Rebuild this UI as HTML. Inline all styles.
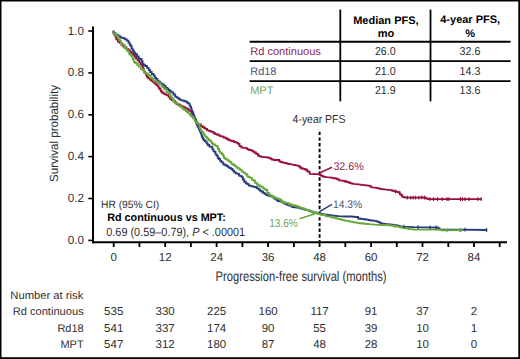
<!DOCTYPE html>
<html><head><meta charset="utf-8"><style>
html,body{margin:0;padding:0;background:#fff;}
body{width:520px;height:359px;overflow:hidden;position:relative;}
svg{position:absolute;left:0;top:0;}
.t{font-family:"Liberation Sans",sans-serif;font-size:11px;fill:#303030;text-rendering:geometricPrecision;}
.b{font-weight:bold;fill:#000;}
</style></head><body>
<svg width="520" height="359" viewBox="0 0 520 359">
<rect x="0" y="0" width="520" height="359" fill="#fff"/>
<line x1="93" y1="26.5" x2="93" y2="243.3" stroke="#000" stroke-width="2"/>
<line x1="92" y1="242.3" x2="507" y2="242.3" stroke="#000" stroke-width="2"/>
<line x1="88.3" y1="240.4" x2="93" y2="240.4" stroke="#000" stroke-width="1.6"/>
<text x="84.00" y="243.90" text-anchor="end" class="t" style="font-size:12px" textLength="16.18" lengthAdjust="spacingAndGlyphs">0.0</text>
<line x1="88.3" y1="198.5" x2="93" y2="198.5" stroke="#000" stroke-width="1.6"/>
<text x="84.00" y="202.02" text-anchor="end" class="t" style="font-size:12px" textLength="16.18" lengthAdjust="spacingAndGlyphs">0.2</text>
<line x1="88.3" y1="156.6" x2="93" y2="156.6" stroke="#000" stroke-width="1.6"/>
<text x="84.00" y="160.14" text-anchor="end" class="t" style="font-size:12px" textLength="16.18" lengthAdjust="spacingAndGlyphs">0.4</text>
<line x1="88.3" y1="114.8" x2="93" y2="114.8" stroke="#000" stroke-width="1.6"/>
<text x="84.00" y="118.26" text-anchor="end" class="t" style="font-size:12px" textLength="16.18" lengthAdjust="spacingAndGlyphs">0.6</text>
<line x1="88.3" y1="72.9" x2="93" y2="72.9" stroke="#000" stroke-width="1.6"/>
<text x="84.00" y="76.38" text-anchor="end" class="t" style="font-size:12px" textLength="16.18" lengthAdjust="spacingAndGlyphs">0.8</text>
<line x1="88.3" y1="31.0" x2="93" y2="31.0" stroke="#000" stroke-width="1.6"/>
<text x="84.00" y="34.50" text-anchor="end" class="t" style="font-size:12px" textLength="16.18" lengthAdjust="spacingAndGlyphs">1.0</text>
<line x1="113.7" y1="242" x2="113.7" y2="247" stroke="#000" stroke-width="1.8"/>
<line x1="139.4" y1="242" x2="139.4" y2="247" stroke="#000" stroke-width="1.8"/>
<line x1="165.2" y1="242" x2="165.2" y2="247" stroke="#000" stroke-width="1.8"/>
<line x1="190.9" y1="242" x2="190.9" y2="247" stroke="#000" stroke-width="1.8"/>
<line x1="216.6" y1="242" x2="216.6" y2="247" stroke="#000" stroke-width="1.8"/>
<line x1="242.4" y1="242" x2="242.4" y2="247" stroke="#000" stroke-width="1.8"/>
<line x1="268.1" y1="242" x2="268.1" y2="247" stroke="#000" stroke-width="1.8"/>
<line x1="293.9" y1="242" x2="293.9" y2="247" stroke="#000" stroke-width="1.8"/>
<line x1="319.6" y1="242" x2="319.6" y2="247" stroke="#000" stroke-width="1.8"/>
<line x1="345.3" y1="242" x2="345.3" y2="247" stroke="#000" stroke-width="1.8"/>
<line x1="371.1" y1="242" x2="371.1" y2="247" stroke="#000" stroke-width="1.8"/>
<line x1="396.8" y1="242" x2="396.8" y2="247" stroke="#000" stroke-width="1.8"/>
<line x1="422.5" y1="242" x2="422.5" y2="247" stroke="#000" stroke-width="1.8"/>
<line x1="448.3" y1="242" x2="448.3" y2="247" stroke="#000" stroke-width="1.8"/>
<line x1="474.0" y1="242" x2="474.0" y2="247" stroke="#000" stroke-width="1.8"/>
<line x1="499.7" y1="242" x2="499.7" y2="247" stroke="#000" stroke-width="1.8"/>
<text x="113.70" y="261.40" text-anchor="middle" class="t" style="font-size:11.5px">0</text>
<text x="165.17" y="261.40" text-anchor="middle" class="t" style="font-size:11.5px">12</text>
<text x="216.64" y="261.40" text-anchor="middle" class="t" style="font-size:11.5px">24</text>
<text x="268.11" y="261.40" text-anchor="middle" class="t" style="font-size:11.5px">36</text>
<text x="319.59" y="261.40" text-anchor="middle" class="t" style="font-size:11.5px">48</text>
<text x="371.06" y="261.40" text-anchor="middle" class="t" style="font-size:11.5px">60</text>
<text x="422.53" y="261.40" text-anchor="middle" class="t" style="font-size:11.5px">72</text>
<text x="474.00" y="261.40" text-anchor="middle" class="t" style="font-size:11.5px">84</text>
<line x1="319.6" y1="131.7" x2="319.6" y2="241.5" stroke="#000" stroke-width="1.9" stroke-dasharray="3.4,2.3"/>
<polyline points="112.80,31.30 113.19,31.30 113.19,32.04 113.86,32.04 113.86,33.99 114.72,33.99 114.72,35.50 115.30,35.50 115.52,35.50 115.52,36.56 116.22,36.56 116.22,39.30 116.70,39.30 117.85,39.30 117.85,41.50 119.00,41.50 119.69,41.50 119.69,42.94 121.44,42.94 121.44,44.80 122.50,44.80 123.14,44.80 123.14,46.32 124.64,46.32 124.64,47.50 125.50,47.50 126.47,47.50 126.47,48.79 127.72,48.79 127.72,49.40 128.00,49.40 128.69,49.40 128.69,50.28 130.04,50.28 130.04,52.00 130.70,52.00 131.70,52.00 131.70,53.60 132.70,53.60 133.46,53.60 133.46,55.05 134.77,55.05 134.77,56.49 136.01,56.49 136.01,58.70 136.70,58.70 137.64,58.70 137.64,60.29 139.29,60.29 139.29,62.70 140.00,62.70 140.75,62.70 140.75,64.43 142.10,64.43 142.10,66.00 142.70,66.00 142.86,66.00 142.86,67.90 143.28,67.90 143.28,68.92 143.78,68.92 143.78,71.33 144.36,71.33 144.36,72.00 144.70,72.00 145.11,72.00 145.11,73.03 146.11,73.03 146.11,75.00 146.70,75.00 147.00,75.00 147.00,76.83 148.10,76.83 148.10,78.30 148.90,78.30 150.01,78.30 150.01,79.84 151.71,79.84 151.71,81.20 152.30,81.20 153.18,81.20 153.18,82.34 154.83,82.34 154.83,83.60 155.60,83.60 156.21,83.60 156.21,84.92 157.56,84.92 157.56,86.16 158.60,86.16 158.60,87.90 158.90,87.90 159.65,87.90 159.65,89.24 160.80,89.24 160.80,91.20 161.20,91.20 161.71,91.20 161.71,92.49 163.36,92.49 163.36,93.60 164.50,93.60 164.95,93.60 164.95,94.29 166.67,94.29 166.67,95.19 168.47,95.19 168.47,96.80 169.00,96.80 170.10,96.80 170.10,99.00 171.20,99.00 171.89,99.00 171.89,100.03 173.54,100.03 173.54,101.10 174.50,101.10 175.16,101.10 175.16,102.52 176.61,102.52 176.61,104.03 178.16,104.03 178.16,104.50 178.90,104.50 179.60,104.50 179.60,105.28 181.07,105.28 181.07,106.17 182.62,106.17 182.62,106.70 183.40,106.70 183.81,106.70 183.81,107.30 185.15,107.30 185.15,108.20 186.94,108.20 186.94,108.90 187.80,108.90 188.60,108.90 188.60,110.67 190.30,110.67 190.30,111.20 191.20,111.20 191.58,111.20 191.58,113.69 192.31,113.69 192.31,115.19 193.03,115.19 193.03,116.70 193.40,116.70 193.74,116.70 193.74,118.38 194.84,118.38 194.84,120.10 195.60,120.10 196.02,120.10 196.02,122.26 196.82,122.26 196.82,123.30 197.20,123.30 197.80,123.30 197.80,124.15 199.27,124.15 199.27,124.50 200.92,124.50 200.92,126.10 201.70,126.10 202.73,126.10 202.73,127.16 204.30,127.16 204.30,128.26 205.46,128.26 205.46,128.90 206.10,128.90 207.10,128.90 207.10,130.39 209.22,130.39 209.22,131.03 211.02,131.03 211.02,131.70 211.70,131.70 212.35,131.70 212.35,131.97 213.56,131.97 213.56,133.27 215.24,133.27 215.24,134.10 216.83,134.10 216.83,134.50 217.30,134.50 218.47,134.50 218.47,135.32 220.12,135.32 220.12,136.07 221.75,136.07 221.75,136.70 222.90,136.70 223.81,136.70 223.81,137.71 225.79,137.71 225.79,138.48 227.63,138.48 227.63,139.50 228.40,139.50 229.03,139.50 229.03,140.05 230.19,140.05 230.19,140.53 231.81,140.53 231.81,141.00 232.90,141.00 233.83,141.00 233.83,142.03 235.64,142.03 235.64,142.47 236.96,142.47 236.96,142.91 238.11,142.91 238.11,143.80 238.80,143.80 239.48,143.80 239.48,146.16 241.33,146.16 241.33,147.50 242.50,147.50 246.30,148.10 247.21,148.10 247.21,149.37 249.06,149.37 249.06,150.00 250.00,150.00 250.84,150.00 250.84,150.44 252.54,150.44 252.54,151.33 254.19,151.33 254.19,152.50 255.00,152.50 256.12,152.50 256.12,153.93 258.02,153.93 258.02,155.60 258.80,155.60 259.35,155.60 259.35,156.29 261.20,156.29 261.20,156.90 262.50,156.90 267.50,157.50 268.59,157.50 268.59,157.87 270.49,157.87 270.49,158.80 271.30,158.80 271.98,158.80 271.98,159.59 273.83,159.59 273.83,160.00 275.00,160.00 278.80,160.00 279.26,160.00 279.26,161.35 280.51,161.35 280.51,161.90 281.30,161.90 281.83,161.90 281.83,162.41 282.91,162.41 282.91,162.58 284.88,162.58 284.88,163.10 286.30,163.10 287.40,163.10 287.40,163.84 289.33,163.84 289.33,164.18 290.73,164.18 290.73,164.40 291.30,164.40 295.00,165.00 297.70,165.60 298.53,165.60 298.53,166.35 299.98,166.35 299.98,167.50 300.60,167.50 301.34,167.50 301.34,168.49 303.24,168.49 303.24,168.90 304.40,168.90 305.34,168.90 305.34,169.77 307.29,169.77 307.29,171.30 308.30,171.30 308.72,171.30 308.72,171.89 309.67,171.89 309.67,173.80 310.20,173.80 314.00,174.20 318.80,174.20 319.47,174.20 319.47,174.82 320.92,174.82 320.92,175.70 321.70,175.70 322.34,175.70 322.34,176.31 324.03,176.31 324.03,176.91 325.79,176.91 325.79,177.10 326.50,177.10 331.30,177.60 332.46,177.60 332.46,178.09 334.41,178.09 334.41,178.27 335.69,178.27 335.69,178.60 336.20,178.60 337.23,178.60 337.23,179.36 339.13,179.36 339.13,180.40 340.00,180.40 344.60,181.00 345.44,181.00 345.44,181.76 347.32,181.76 347.32,182.22 348.79,182.22 348.79,182.70 349.20,182.70 350.09,182.70 350.09,183.09 351.67,183.09 351.67,183.54 353.08,183.54 353.08,183.80 353.80,183.80 358.50,184.40 363.10,185.00 368.80,185.60 369.73,185.60 369.73,186.36 371.48,186.36 371.48,187.30 372.30,187.30 376.90,187.90 377.63,187.90 377.63,188.30 379.18,188.30 379.18,188.62 380.74,188.62 380.74,189.00 381.50,189.00 386.20,189.60 390.80,190.20 391.86,190.20 391.86,190.70 393.42,190.70 393.42,191.15 394.66,191.15 394.66,191.30 395.40,191.30 396.03,191.30 396.03,191.69 397.73,191.69 397.73,192.30 398.80,192.30 399.80,192.30 399.80,194.40 400.80,194.40 401.25,194.40 401.25,195.11 402.20,195.11 402.20,196.90 402.70,196.90 403.98,196.90 403.98,197.29 405.88,197.29 405.88,197.70 406.50,197.70 418.00,197.70 423.80,197.30 424.24,197.30 424.24,197.77 425.69,197.77 425.69,198.30 426.70,198.30 427.70,198.30 427.70,199.20 428.70,199.20 481.50,199.20" fill="none" stroke="#9b1038" stroke-width="1.8" stroke-linejoin="miter"/>
<polyline points="112.80,31.30 113.57,31.30 113.57,33.23 115.52,33.23 115.52,34.70 116.70,34.70 117.24,34.70 117.24,35.07 118.46,35.07 118.46,36.27 120.21,36.27 120.21,37.30 121.30,37.30 121.72,37.30 121.72,37.96 122.93,37.96 122.93,38.21 124.86,38.21 124.86,39.30 126.00,39.30 126.79,39.30 126.79,40.66 128.49,40.66 128.49,42.70 129.40,42.70 129.65,42.70 129.65,44.63 130.65,44.63 130.65,46.00 131.40,46.00 131.65,46.00 131.65,48.33 132.30,48.33 132.30,49.40 132.70,49.40 132.95,49.40 132.95,50.74 133.85,50.74 133.85,52.30 134.50,52.30 134.90,52.30 134.90,53.59 135.68,53.59 135.68,54.17 137.03,54.17 137.03,56.50 138.00,56.50 138.77,56.50 138.77,58.66 140.44,58.66 140.44,59.23 141.67,59.23 141.67,61.40 142.00,61.40 142.67,61.40 142.67,64.07 143.92,64.07 143.92,65.20 145.24,65.20 145.24,66.00 146.00,66.00 147.02,66.00 147.02,67.85 148.72,67.85 148.72,70.00 149.40,70.00 150.09,70.00 150.09,72.01 151.74,72.01 151.74,74.00 152.70,74.00 153.56,74.00 153.56,75.62 154.90,75.62 154.90,77.94 156.05,77.94 156.05,78.90 156.70,78.90 157.36,78.90 157.36,80.75 158.41,80.75 158.41,81.73 160.00,81.73 160.00,83.40 161.20,83.40 162.42,83.40 162.42,84.61 164.06,84.61 164.06,85.94 165.59,85.94 165.59,87.90 166.70,87.90 167.22,87.90 167.22,88.63 168.34,88.63 168.34,89.99 169.68,89.99 169.68,91.19 171.36,91.19 171.36,92.30 172.30,92.30 173.40,92.30 173.40,94.50 174.50,94.50 175.18,94.50 175.18,96.57 176.67,96.57 176.67,97.58 178.19,97.58 178.19,98.40 178.90,98.40 179.24,98.40 179.24,99.46 180.52,99.46 180.52,100.05 182.43,100.05 182.43,100.60 183.40,100.60 184.12,100.60 184.12,101.23 185.76,101.23 185.76,101.68 187.23,101.68 187.23,102.80 187.80,102.80 188.49,102.80 188.49,103.58 189.64,103.58 189.64,105.60 190.10,105.60 190.41,105.60 190.41,106.91 191.05,106.91 191.05,108.42 191.54,108.42 191.54,110.00 191.70,110.00 191.97,110.00 191.97,111.54 192.65,111.54 192.65,112.52 193.23,112.52 193.23,114.50 193.40,114.50 193.70,114.50 193.70,115.51 194.29,115.51 194.29,117.32 195.09,117.32 195.09,119.00 195.60,119.00 195.80,119.00 195.80,120.34 196.18,120.34 196.18,121.54 196.56,121.54 196.56,124.19 196.98,124.19 196.98,125.00 197.20,125.00 197.70,125.00 197.70,126.75 198.67,126.75 198.67,128.60 199.32,128.60 199.32,130.00 199.50,130.00 199.94,130.00 199.94,131.65 200.84,131.65 200.84,133.26 201.51,133.26 201.51,135.60 201.70,135.60 202.09,135.60 202.09,137.31 202.88,137.31 202.88,138.70 203.59,138.70 203.59,140.10 203.90,140.10 204.93,140.10 204.93,141.34 206.63,141.34 206.63,143.40 207.30,143.40 207.75,143.40 207.75,144.98 209.40,144.98 209.40,146.70 210.60,146.70 211.17,146.70 211.17,147.15 212.33,147.15 212.33,149.22 213.41,149.22 213.41,151.20 213.90,151.20 214.43,151.20 214.43,151.94 215.50,151.94 215.50,154.46 216.67,154.46 216.67,155.70 217.30,155.70 217.75,155.70 217.75,157.98 218.85,157.98 218.85,159.00 219.50,159.00 220.11,159.00 220.11,160.79 221.46,160.79 221.46,162.30 222.20,162.30 223.35,162.30 223.35,164.50 224.50,164.50 225.30,164.50 225.30,165.23 226.79,165.23 226.79,166.13 228.19,166.13 228.19,167.30 228.90,167.30 229.83,167.30 229.83,168.06 231.30,168.06 231.30,168.98 232.62,168.98 232.62,170.60 233.40,170.60 234.22,170.60 234.22,172.39 235.87,172.39 235.87,173.40 236.70,173.40 237.48,173.40 237.48,173.90 239.00,173.90 239.00,175.58 240.46,175.58 240.46,176.20 241.20,176.20 241.76,176.20 241.76,177.05 242.86,177.05 242.86,179.50 243.40,179.50 244.18,179.50 244.18,181.76 245.83,181.76 245.83,183.40 246.70,183.40 247.21,183.40 247.21,184.20 248.91,184.20 248.91,185.70 250.10,185.70 250.50,185.70 250.50,185.88 251.62,185.88 251.62,186.42 253.42,186.42 253.42,186.80 254.50,186.80 255.42,186.80 255.42,187.26 257.12,187.26 257.12,188.40 257.90,188.40 258.70,188.40 258.70,189.50 259.50,189.50 259.88,189.50 259.88,190.69 261.19,190.69 261.19,191.51 263.01,191.51 263.01,192.80 263.90,192.80 264.58,192.80 264.58,193.95 266.48,193.95 266.48,195.20 268.05,195.20 268.05,195.60 268.40,195.60 269.18,195.60 269.18,195.93 270.62,195.93 270.62,196.31 272.03,196.31 272.03,196.70 272.80,196.70 273.82,196.70 273.82,198.27 275.54,198.27 275.54,199.46 276.77,199.46 276.77,200.10 277.30,200.10 277.73,200.10 277.73,200.98 279.32,200.98 279.32,201.33 281.09,201.33 281.09,201.70 281.70,201.70 282.62,201.70 282.62,202.52 284.10,202.52 284.10,203.28 285.43,203.28 285.43,204.00 286.20,204.00 286.82,204.00 286.82,204.62 288.25,204.62 288.25,205.38 289.88,205.38 289.88,205.60 290.70,205.60 291.48,205.60 291.48,206.50 292.84,206.50 292.84,207.02 294.20,207.02 294.20,207.30 295.00,207.30 298.90,207.80 300.04,207.80 300.04,208.42 301.60,208.42 301.60,208.66 302.75,208.66 302.75,209.12 304.10,209.12 304.10,209.38 305.28,209.38 305.28,209.78 306.83,209.78 306.83,210.10 307.80,210.10 308.40,210.10 308.40,210.59 309.61,210.59 309.61,210.89 310.86,210.89 310.86,211.66 313.00,211.66 313.00,212.50 314.50,212.50 315.49,212.50 315.49,212.71 317.08,212.71 317.08,213.09 318.34,213.09 318.34,213.30 319.00,213.30 319.63,213.30 319.63,213.72 320.90,213.72 320.90,214.00 322.54,214.00 322.54,214.28 324.86,214.28 324.86,214.60 326.20,214.60 327.11,214.60 327.11,214.94 328.87,214.94 328.87,215.04 330.23,215.04 330.23,215.25 331.52,215.25 331.52,215.50 332.30,215.50 338.50,216.10 344.60,216.50 350.80,216.50 356.90,217.00 358.05,217.00 358.05,218.50 359.20,218.50 360.19,218.50 360.19,218.84 362.14,218.84 362.14,219.20 363.10,219.20 364.07,219.20 364.07,219.27 365.94,219.27 365.94,219.55 367.75,219.55 367.75,219.89 368.93,219.89 368.93,220.10 369.20,220.10 370.08,220.10 370.08,220.29 371.28,220.29 371.28,220.49 372.29,220.49 372.29,220.71 374.19,220.71 374.19,220.80 375.40,220.80 376.14,220.80 376.14,221.30 377.69,221.30 377.69,221.90 378.50,221.90 379.32,221.90 379.32,222.65 380.82,222.65 380.82,223.50 381.50,223.50 382.27,223.50 382.27,223.61 383.92,223.61 383.92,223.87 385.15,223.87 385.15,224.08 386.61,224.08 386.61,224.20 387.70,224.20 388.16,224.20 388.16,224.32 389.21,224.32 389.21,224.43 390.76,224.43 390.76,224.70 392.77,224.70 392.77,225.00 393.80,225.00 394.67,225.00 394.67,225.19 396.22,225.19 396.22,225.44 398.03,225.44 398.03,225.88 399.58,225.88 399.58,226.20 400.00,226.20 402.70,226.60 414.20,227.20 437.30,227.50 438.17,227.50 438.17,228.44 439.62,228.44 439.62,229.40 440.20,229.40 487.30,230.00" fill="none" stroke="#2a3c7c" stroke-width="1.8" stroke-linejoin="miter"/>
<polyline points="112.80,31.30 113.69,31.30 113.69,33.85 115.29,33.85 115.29,35.00 116.00,35.00 116.53,35.00 116.53,35.81 117.70,35.81 117.70,37.33 118.82,37.33 118.82,39.30 119.30,39.30 119.90,39.30 119.90,40.83 120.88,40.83 120.88,43.00 121.99,43.00 121.99,44.00 122.70,44.00 123.31,44.00 123.31,44.93 124.51,44.93 124.51,47.54 125.55,47.54 125.55,48.70 126.00,48.70 126.91,48.70 126.91,50.58 128.27,50.58 128.27,51.56 129.16,51.56 129.16,53.80 129.60,53.80 130.40,53.80 130.40,55.03 131.71,55.03 131.71,56.74 132.76,56.74 132.76,59.00 133.30,59.00 133.77,59.00 133.77,61.89 134.94,61.89 134.94,62.75 136.17,62.75 136.17,63.40 136.70,63.40 137.28,63.40 137.28,65.06 138.93,65.06 138.93,66.70 140.00,66.70 140.76,66.70 140.76,68.94 142.46,68.94 142.46,70.00 143.40,70.00 143.88,70.00 143.88,72.71 145.53,72.71 145.53,73.40 146.70,73.40 147.66,73.40 147.66,74.64 149.31,74.64 149.31,75.80 150.00,75.80 150.79,75.80 150.79,78.02 152.10,78.02 152.10,78.66 153.59,78.66 153.59,80.90 155.63,80.90 155.63,81.70 156.70,81.70 157.21,81.70 157.21,82.19 158.58,82.19 158.58,83.48 160.30,83.48 160.30,84.58 161.73,84.58 161.73,86.70 162.30,86.70 162.90,86.70 162.90,87.42 164.30,87.42 164.30,89.27 166.50,89.27 166.50,92.30 167.90,92.30 168.97,92.30 168.97,93.06 170.42,93.06 170.42,96.20 171.14,96.20 171.14,97.50 171.50,97.50 172.04,97.50 172.04,98.44 173.21,98.44 173.21,100.70 174.16,100.70 174.16,102.30 174.50,102.30 175.07,102.30 175.07,103.26 176.65,103.26 176.65,103.69 178.28,103.69 178.28,105.60 178.90,105.60 179.70,105.60 179.70,106.17 181.13,106.17 181.13,107.25 182.58,107.25 182.58,108.90 183.40,108.90 184.26,108.90 184.26,109.77 185.98,109.77 185.98,110.98 187.32,110.98 187.32,112.30 187.80,112.30 188.77,112.30 188.77,113.71 190.15,113.71 190.15,115.24 191.42,115.24 191.42,116.70 192.30,116.70 193.22,116.70 193.22,118.43 194.78,118.43 194.78,121.42 196.06,121.42 196.06,122.30 196.70,122.30 197.11,122.30 197.11,123.42 198.36,123.42 198.36,124.42 199.65,124.42 199.65,127.50 200.10,127.50 200.37,127.50 200.37,129.22 201.17,129.22 201.17,131.10 201.70,131.10 202.38,131.10 202.38,132.50 203.54,132.50 203.54,134.31 204.51,134.31 204.51,135.60 205.00,135.60 205.56,135.60 205.56,136.97 206.87,136.97 206.87,138.46 208.56,138.46 208.56,140.10 209.50,140.10 210.34,140.10 210.34,141.29 211.55,141.29 211.55,143.12 212.92,143.12 212.92,144.50 213.90,144.50 215.00,144.50 215.00,145.57 216.66,145.57 216.66,146.43 217.80,146.43 217.80,149.00 218.40,149.00 219.05,149.00 219.05,151.24 220.18,151.24 220.18,152.57 221.18,152.57 221.18,153.40 221.70,153.40 222.16,153.40 222.16,154.08 223.03,154.08 223.03,155.57 223.96,155.57 223.96,157.80 224.50,157.80 225.42,157.80 225.42,159.15 227.33,159.15 227.33,160.03 228.61,160.03 228.61,161.10 228.90,161.10 229.74,161.10 229.74,161.96 231.18,161.96 231.18,163.53 232.58,163.53 232.58,164.50 233.40,164.50 233.84,164.50 233.84,165.04 235.09,165.04 235.09,166.40 236.86,166.40 236.86,167.80 237.80,167.80 238.52,167.80 238.52,168.76 240.15,168.76 240.15,169.83 241.68,169.83 241.68,171.70 242.30,171.70 243.46,171.70 243.46,172.53 245.25,172.53 245.25,173.89 246.29,173.89 246.29,174.50 246.70,174.50 247.33,174.50 247.33,176.41 248.48,176.41 248.48,177.11 250.10,177.11 250.10,177.90 251.20,177.90 251.95,177.90 251.95,179.89 253.60,179.89 253.60,180.60 254.50,180.60 255.05,180.60 255.05,182.77 256.75,182.77 256.75,184.50 257.90,184.50 258.70,184.50 258.70,185.50 259.50,185.50 260.14,185.50 260.14,186.13 261.66,186.13 261.66,187.20 263.22,187.20 263.22,188.40 263.90,188.40 264.59,188.40 264.59,189.45 265.79,189.45 265.79,190.00 267.36,190.00 267.36,192.80 268.40,192.80 269.03,192.80 269.03,194.54 270.61,194.54 270.61,195.60 272.19,195.60 272.19,196.20 272.80,196.20 273.15,196.20 273.15,197.29 274.41,197.29 274.41,197.59 276.31,197.59 276.31,198.40 277.30,198.40 278.07,198.40 278.07,198.86 279.74,198.86 279.74,199.54 281.18,199.54 281.18,200.60 281.70,200.60 282.11,200.60 282.11,202.00 283.30,202.00 283.30,202.49 285.13,202.49 285.13,202.90 286.20,202.90 287.04,202.90 287.04,203.11 288.75,203.11 288.75,204.02 290.16,204.02 290.16,204.50 290.70,204.50 291.77,204.50 291.77,205.23 293.67,205.23 293.67,205.50 294.50,205.50 295.52,205.50 295.52,206.01 297.05,206.01 297.05,206.51 298.23,206.51 298.23,206.70 298.90,206.70 299.48,206.70 299.48,207.43 300.83,207.43 300.83,207.84 302.50,207.84 302.50,208.40 303.40,208.40 304.27,208.40 304.27,209.06 306.16,209.06 306.16,209.89 307.49,209.89 307.49,210.10 307.80,210.10 308.83,210.10 308.83,210.68 310.26,210.68 310.26,211.31 311.48,211.31 311.48,211.70 312.30,211.70 312.98,211.70 312.98,212.30 314.49,212.30 314.49,212.75 316.01,212.75 316.01,213.20 316.70,213.20 317.85,213.20 317.85,214.00 319.00,214.00 319.73,214.00 319.73,214.43 320.96,214.43 320.96,214.73 322.43,214.73 322.43,214.90 323.40,214.90 324.31,214.90 324.31,215.25 325.71,215.25 325.71,215.90 326.20,215.90 326.74,215.90 326.74,216.29 328.25,216.29 328.25,216.42 330.29,216.42 330.29,216.85 331.83,216.85 331.83,217.30 332.30,217.30 333.24,217.30 333.24,217.76 334.62,217.76 334.62,217.90 335.98,217.90 335.98,218.32 337.71,218.32 337.71,218.80 338.50,218.80 339.30,218.80 339.30,219.13 340.97,219.13 340.97,219.69 342.23,219.69 342.23,220.22 343.61,220.22 343.61,220.40 344.60,220.40 345.60,220.40 345.60,220.80 347.73,220.80 347.73,220.95 349.22,220.95 349.22,221.40 350.19,221.40 350.19,221.60 350.80,221.60 351.74,221.60 351.74,221.82 353.08,221.82 353.08,222.06 354.16,222.06 354.16,222.43 355.87,222.43 355.87,222.70 356.90,222.70 357.33,222.70 357.33,222.91 358.37,222.91 358.37,223.17 359.55,223.17 359.55,223.26 361.61,223.26 361.61,223.50 363.10,223.50 363.56,223.50 363.56,223.70 364.91,223.70 364.91,223.85 366.78,223.85 366.78,224.00 368.49,224.00 368.49,224.20 369.20,224.20 375.40,224.70 381.50,225.00 387.70,225.00 388.09,225.00 388.09,225.23 389.64,225.23 389.64,225.34 391.67,225.34 391.67,225.62 393.16,225.62 393.16,225.80 393.80,225.80 394.50,225.80 394.50,226.22 396.30,226.22 396.30,226.34 398.19,226.34 398.19,226.79 399.49,226.79 399.49,227.00 400.00,227.00 400.75,227.00 400.75,227.54 402.52,227.54 402.52,227.77 404.25,227.77 404.25,228.02 405.73,228.02 405.73,228.40 406.50,228.40 407.36,228.40 407.36,228.63 408.91,228.63 408.91,229.07 410.37,229.07 410.37,229.20 412.25,229.20 412.25,229.31 413.78,229.31 413.78,229.60 414.20,229.60 439.20,229.60 439.76,229.60 439.76,229.88 441.21,229.88 441.21,230.40 442.10,230.40 461.30,230.20" fill="none" stroke="#68a83c" stroke-width="1.8" stroke-linejoin="miter"/>
<path d="M395.5,189.4v3.8M399.6,191.2v3.8M407.3,195.8v3.8M410.7,195.8v3.8M413.1,195.8v3.8M415.5,195.8v3.8M418.8,195.7v3.8M421.7,195.5v3.8M424.6,195.7v3.8M430.0,197.3v3.8M433.5,197.3v3.8M437.5,197.3v3.8M442.2,197.3v3.8M447.0,197.3v3.8M449.0,197.3v3.8M460.4,197.3v3.8M462.4,197.3v3.8M465.0,197.3v3.8M469.0,197.3v3.8M477.9,197.3v3.8M481.2,197.3v3.8" stroke="#9b1038" stroke-width="1.2" fill="none"/>
<path d="M404.0,224.8v3.8M418.0,225.3v3.8M430.0,225.5v3.8M436.0,225.6v3.8M465.0,227.8v3.8M486.5,228.1v3.8" stroke="#2a3c7c" stroke-width="1.2" fill="none"/>
<path d="M395.0,224.1v3.8M447.0,228.4v3.8M459.7,228.3v3.8M461.0,228.3v3.8" stroke="#68a83c" stroke-width="1.2" fill="none"/>
<line x1="320" y1="172.8" x2="332" y2="167.3" stroke="#9b1038" stroke-width="1.5"/>
<line x1="320" y1="211.3" x2="332" y2="204.3" stroke="#2a3c7c" stroke-width="1.5"/>
<line x1="318" y1="212.7" x2="299.6" y2="218.8" stroke="#68a83c" stroke-width="1.5"/>
<text x="333.40" y="170.40" class="t" style="font-size:11px;fill:#8a2a50" textLength="30.40" lengthAdjust="spacingAndGlyphs">32.6%</text>
<text x="333.00" y="207.70" class="t" style="font-size:11px;fill:#47537e" textLength="29.10" lengthAdjust="spacingAndGlyphs">14.3%</text>
<text x="269.20" y="227.30" class="t" style="font-size:11.5px;fill:#72a35a" textLength="28.60" lengthAdjust="spacingAndGlyphs">13.6%</text>
<text x="292.60" y="122.50" class="t" style="font-size:11.5px" textLength="52.80" lengthAdjust="spacingAndGlyphs">4-year PFS</text>
<text x="101.00" y="207.60" class="t" style="font-size:10.5px" textLength="58.20" lengthAdjust="spacingAndGlyphs">HR (95% CI)</text>
<text x="107.20" y="220.60" class="t" style="font-size:11px;fill:#000;font-weight:bold" textLength="118.60" lengthAdjust="spacingAndGlyphs">Rd continuous vs MPT:</text>
<text x="106.30" y="235.80" class="t" style="font-size:12px" textLength="138.80" lengthAdjust="spacingAndGlyphs">0.69 (0.59–0.79), <tspan style="font-style:italic">P</tspan> &lt; .00001</text>
<text x="215.60" y="281.30" class="t" style="font-size:14px" textLength="171.00" lengthAdjust="spacingAndGlyphs">Progression-free survival (months)</text>
<text transform="translate(57.8,182) rotate(-90)" x="0" y="0" class="t" style="font-size:12px" textLength="97" lengthAdjust="spacingAndGlyphs">Survival probability</text>
<line x1="340.3" y1="9.6" x2="340.3" y2="101.3" stroke="#000" stroke-width="1.8"/>
<line x1="430.5" y1="9.6" x2="430.5" y2="101.3" stroke="#000" stroke-width="1.8"/>
<line x1="249.6" y1="41.8" x2="510.6" y2="41.8" stroke="#000" stroke-width="1.9"/>
<line x1="249.6" y1="61.1" x2="510.6" y2="61.1" stroke="#000" stroke-width="1.9"/>
<line x1="249.6" y1="81.1" x2="510.6" y2="81.1" stroke="#000" stroke-width="1.9"/>
<text x="385.90" y="23.50" text-anchor="middle" class="t" style="font-size:11px;fill:#000;font-weight:bold">Median PFS,</text>
<text x="385.90" y="36.80" text-anchor="middle" class="t" style="font-size:11px;fill:#000;font-weight:bold">mo</text>
<text x="470.20" y="23.30" text-anchor="middle" class="t" style="font-size:11px;fill:#000;font-weight:bold">4-year PFS,</text>
<text x="470.20" y="37.00" text-anchor="middle" class="t" style="font-size:11px;fill:#000;font-weight:bold">%</text>
<text x="250.20" y="55.10" class="t" style="font-size:11px;fill:#8a2a50" textLength="70.70" lengthAdjust="spacingAndGlyphs">Rd continuous</text>
<text x="385.30" y="55.10" text-anchor="middle" class="t" style="font-size:11.5px" textLength="20.81" lengthAdjust="spacingAndGlyphs">26.0</text>
<text x="470.00" y="55.10" text-anchor="middle" class="t" style="font-size:11.5px" textLength="20.81" lengthAdjust="spacingAndGlyphs">32.6</text>
<text x="250.20" y="74.50" class="t" style="font-size:11px;fill:#47537e">Rd18</text>
<text x="385.30" y="74.50" text-anchor="middle" class="t" style="font-size:11.5px" textLength="20.81" lengthAdjust="spacingAndGlyphs">21.0</text>
<text x="470.00" y="74.50" text-anchor="middle" class="t" style="font-size:11.5px" textLength="20.81" lengthAdjust="spacingAndGlyphs">14.3</text>
<text x="250.20" y="93.50" class="t" style="font-size:11px;fill:#72a35a">MPT</text>
<text x="385.30" y="93.50" text-anchor="middle" class="t" style="font-size:11.5px" textLength="20.81" lengthAdjust="spacingAndGlyphs">21.9</text>
<text x="470.00" y="93.50" text-anchor="middle" class="t" style="font-size:11.5px" textLength="20.81" lengthAdjust="spacingAndGlyphs">13.6</text>
<text x="10.30" y="298.70" class="t" style="font-size:11px" textLength="73.00" lengthAdjust="spacingAndGlyphs">Number at risk</text>
<text x="83.70" y="315.20" text-anchor="end" class="t" style="font-size:11px" textLength="71.00" lengthAdjust="spacingAndGlyphs">Rd continuous</text>
<text x="113.70" y="315.20" text-anchor="middle" class="t" style="font-size:11.5px">535</text>
<text x="165.17" y="315.20" text-anchor="middle" class="t" style="font-size:11.5px">330</text>
<text x="216.64" y="315.20" text-anchor="middle" class="t" style="font-size:11.5px">225</text>
<text x="268.11" y="315.20" text-anchor="middle" class="t" style="font-size:11.5px">160</text>
<text x="319.59" y="315.20" text-anchor="middle" class="t" style="font-size:11.5px">117</text>
<text x="371.06" y="315.20" text-anchor="middle" class="t" style="font-size:11.5px">91</text>
<text x="422.53" y="315.20" text-anchor="middle" class="t" style="font-size:11.5px">37</text>
<text x="474.00" y="315.20" text-anchor="middle" class="t" style="font-size:11.5px">2</text>
<text x="83.70" y="331.90" text-anchor="end" class="t" style="font-size:11px">Rd18</text>
<text x="113.70" y="331.90" text-anchor="middle" class="t" style="font-size:11.5px">541</text>
<text x="165.17" y="331.90" text-anchor="middle" class="t" style="font-size:11.5px">337</text>
<text x="216.64" y="331.90" text-anchor="middle" class="t" style="font-size:11.5px">174</text>
<text x="268.11" y="331.90" text-anchor="middle" class="t" style="font-size:11.5px">90</text>
<text x="319.59" y="331.90" text-anchor="middle" class="t" style="font-size:11.5px">55</text>
<text x="371.06" y="331.90" text-anchor="middle" class="t" style="font-size:11.5px">39</text>
<text x="422.53" y="331.90" text-anchor="middle" class="t" style="font-size:11.5px">10</text>
<text x="474.00" y="331.90" text-anchor="middle" class="t" style="font-size:11.5px">1</text>
<text x="83.70" y="348.30" text-anchor="end" class="t" style="font-size:11px">MPT</text>
<text x="113.70" y="348.30" text-anchor="middle" class="t" style="font-size:11.5px">547</text>
<text x="165.17" y="348.30" text-anchor="middle" class="t" style="font-size:11.5px">312</text>
<text x="216.64" y="348.30" text-anchor="middle" class="t" style="font-size:11.5px">180</text>
<text x="268.11" y="348.30" text-anchor="middle" class="t" style="font-size:11.5px">87</text>
<text x="319.59" y="348.30" text-anchor="middle" class="t" style="font-size:11.5px">48</text>
<text x="371.06" y="348.30" text-anchor="middle" class="t" style="font-size:11.5px">28</text>
<text x="422.53" y="348.30" text-anchor="middle" class="t" style="font-size:11.5px">10</text>
<text x="474.00" y="348.30" text-anchor="middle" class="t" style="font-size:11.5px">0</text>
<rect x="0" y="0" width="520" height="1.5" fill="#000"/><rect x="0" y="0" width="1.5" height="359" fill="#000"/><rect x="518.3" y="0" width="1.7" height="359" fill="#000"/><rect x="0" y="357.2" width="520" height="1.8" fill="#000"/>
</svg>
</body></html>
